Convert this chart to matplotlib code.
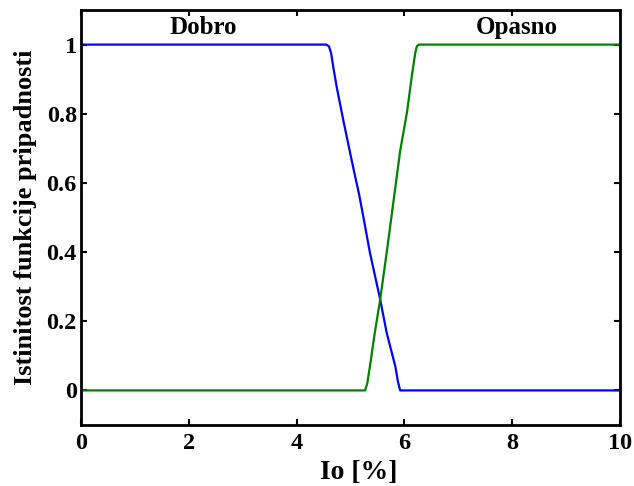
import matplotlib
matplotlib.use("Agg")
import matplotlib.pyplot as plt

# membership functions
dobro_x = [0, 4.55, 4.60, 4.64, 4.68, 4.74, 4.87, 4.96, 5.05, 5.16, 5.24, 5.36, 5.55, 5.67, 5.83, 5.88, 5.92, 10]
dobro_y = [1, 1, 0.995, 0.975, 0.935, 0.88, 0.778, 0.711, 0.644, 0.566, 0.500, 0.398, 0.263, 0.167, 0.070, 0.025, 0, 0]
opasno_x = [0, 5.27, 5.31, 5.36, 5.45, 5.55, 5.67, 5.77, 5.92, 6.05, 6.14, 6.20, 6.23, 6.27, 10]
opasno_y = [0, 0, 0.02, 0.070, 0.167, 0.263, 0.398, 0.515, 0.692, 0.807, 0.913, 0.975, 0.995, 1, 1]
xticks = [0, 2, 4, 6, 8, 10]
yticks = [0, 0.2, 0.4, 0.6, 0.8, 1]

plt.rcParams['font.family'] = ['Liberation Serif', 'DejaVu Serif']
plt.rcParams['font.weight'] = 'bold'

fig = plt.figure(figsize=(6.34, 4.86), dpi=100)
ax = fig.add_axes([0.1278, 0.1255, 0.978 - 0.1278, 0.9794 - 0.1255])

ax.plot(dobro_x, dobro_y, color='#0000ff', lw=1.6)
ax.plot(opasno_x, opasno_y, color='#008000', lw=1.6)

ax.text(2.27, 1.049, 'Dobro', ha='center', va='center', fontsize=18, fontweight='bold')
ax.text(8.08, 1.049, 'Opasno', ha='center', va='center', fontsize=18, fontweight='bold')

ax.set_xlim(0, 10)
ax.set_ylim(-0.1, 1.1)
ax.set_xticks(xticks)
ax.set_xticklabels([str(v) for v in xticks])
ax.set_yticks(yticks)
ax.set_yticklabels(['0', '0.2', '0.4', '0.6', '0.8', '1'])
ax.tick_params(direction='in', top=True, right=True, length=4, width=1.5, labelsize=17.5)
ax.tick_params(axis='x', pad=6)
ax.tick_params(axis='y', pad=3)
for s in ax.spines.values():
    s.set_linewidth(2)

ax.set_xlabel('Io [%]', fontsize=20, fontweight='bold')
ax.xaxis.set_label_coords(0.515, -0.085)
ax.set_ylabel('Istinitost funkcije pripadnosti', fontsize=19, fontweight='bold', labelpad=7)

fig.savefig('out.png', dpi=100)
